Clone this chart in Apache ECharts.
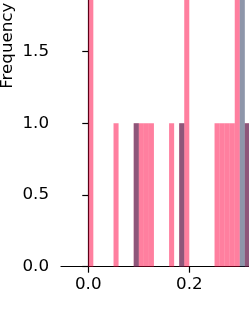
<!DOCTYPE html>
<html>
<head>
<meta charset="utf-8">
<script src="https://cdn.jsdelivr.net/npm/echarts@6/dist/echarts.min.js"></script>
<style>
html,body{margin:0;padding:0;background:#fff;}
#chart{width:249px;height:323px;}
</style>
</head>
<body>
<div id="chart"></div>
<script>
// Histogram data (bin start, count); bin width 0.01
const binWidth = 0.01;
const pinkBins   = [0.00, 0.05, 0.09, 0.10, 0.11, 0.12, 0.16, 0.18, 0.19, 0.25, 0.26, 0.27, 0.28, 0.29, 0.31];
const pinkCounts = [3,    1,    1,    1,    1,    1,    1,    1,    2,    1,    1,    1,    1,    2,    1];
const navyBins   = [0.09, 0.18, 0.30, 0.31];
const navyCounts = [1,    1,    2,    1];
const xTicks = [0.0, 0.2, 0.4];
const yTicks = [0.0, 0.5, 1.0, 1.5, 2.0, 2.5, 3.0];

const FONT = 'DejaVu Sans';
const FS = 16.7;

function toData(bins, counts) {
  return bins.map((b, i) => [b, b + binWidth, counts[i]]);
}
function renderItem(params, api) {
  const p0 = api.coord([api.value(0), 0]);
  const p1 = api.coord([api.value(1), api.value(2)]);
  return {
    type: 'rect',
    shape: { x: p0[0], y: p1[1], width: p1[0] - p0[0], height: p0[1] - p1[1] },
    style: api.style()
  };
}

const chart = echarts.init(document.getElementById('chart'), null, { renderer: 'canvas' });
chart.setOption({
  animation: false,
  backgroundColor: '#ffffff',
  grid: { left: 61, top: -185.3, width: 229.3, height: 452, containLabel: false, outerBoundsMode: 'none' },
  xAxis: {
    type: 'value', min: -0.054, max: 0.4,
    axisLine: { show: true, lineStyle: { color: '#000', width: 1.2 } },
    axisTick: { show: true, inside: false, length: 6, customValues: xTicks, lineStyle: { color: '#000', width: 1.2 } },
    axisLabel: { customValues: xTicks, formatter: v => v.toFixed(1), color: '#000', fontFamily: FONT, fontSize: FS, margin: 9 },
    splitLine: { show: false }
  },
  yAxis: {
    type: 'value', min: 0, max: 3.15,
    name: 'Frequency', nameLocation: 'middle', nameGap: 45, nameMoveOverlap: false,
    nameTextStyle: { color: '#000', fontFamily: FONT, fontSize: FS, padding: [0, 10, 0, 0] },
    axisLine: { show: true, lineStyle: { color: '#000', width: 1.2 } },
    axisTick: { show: true, inside: false, length: 6, customValues: yTicks, lineStyle: { color: '#000', width: 1.2 } },
    axisLabel: { customValues: yTicks, formatter: v => v.toFixed(1), color: '#000', fontFamily: FONT, fontSize: FS, margin: 12 },
    splitLine: { show: false }
  },
  series: [
    {
      type: 'custom', renderItem: renderItem,
      encode: { x: [0, 1], y: 2 },
      itemStyle: { color: 'rgba(255,0,64,0.5)' },
      data: toData(pinkBins, pinkCounts)
    },
    {
      type: 'custom', renderItem: renderItem,
      encode: { x: [0, 1], y: 2 },
      itemStyle: { color: 'rgba(29,45,85,0.5)' },
      data: toData(navyBins, navyCounts)
    }
  ]
});
</script>
</body>
</html>
